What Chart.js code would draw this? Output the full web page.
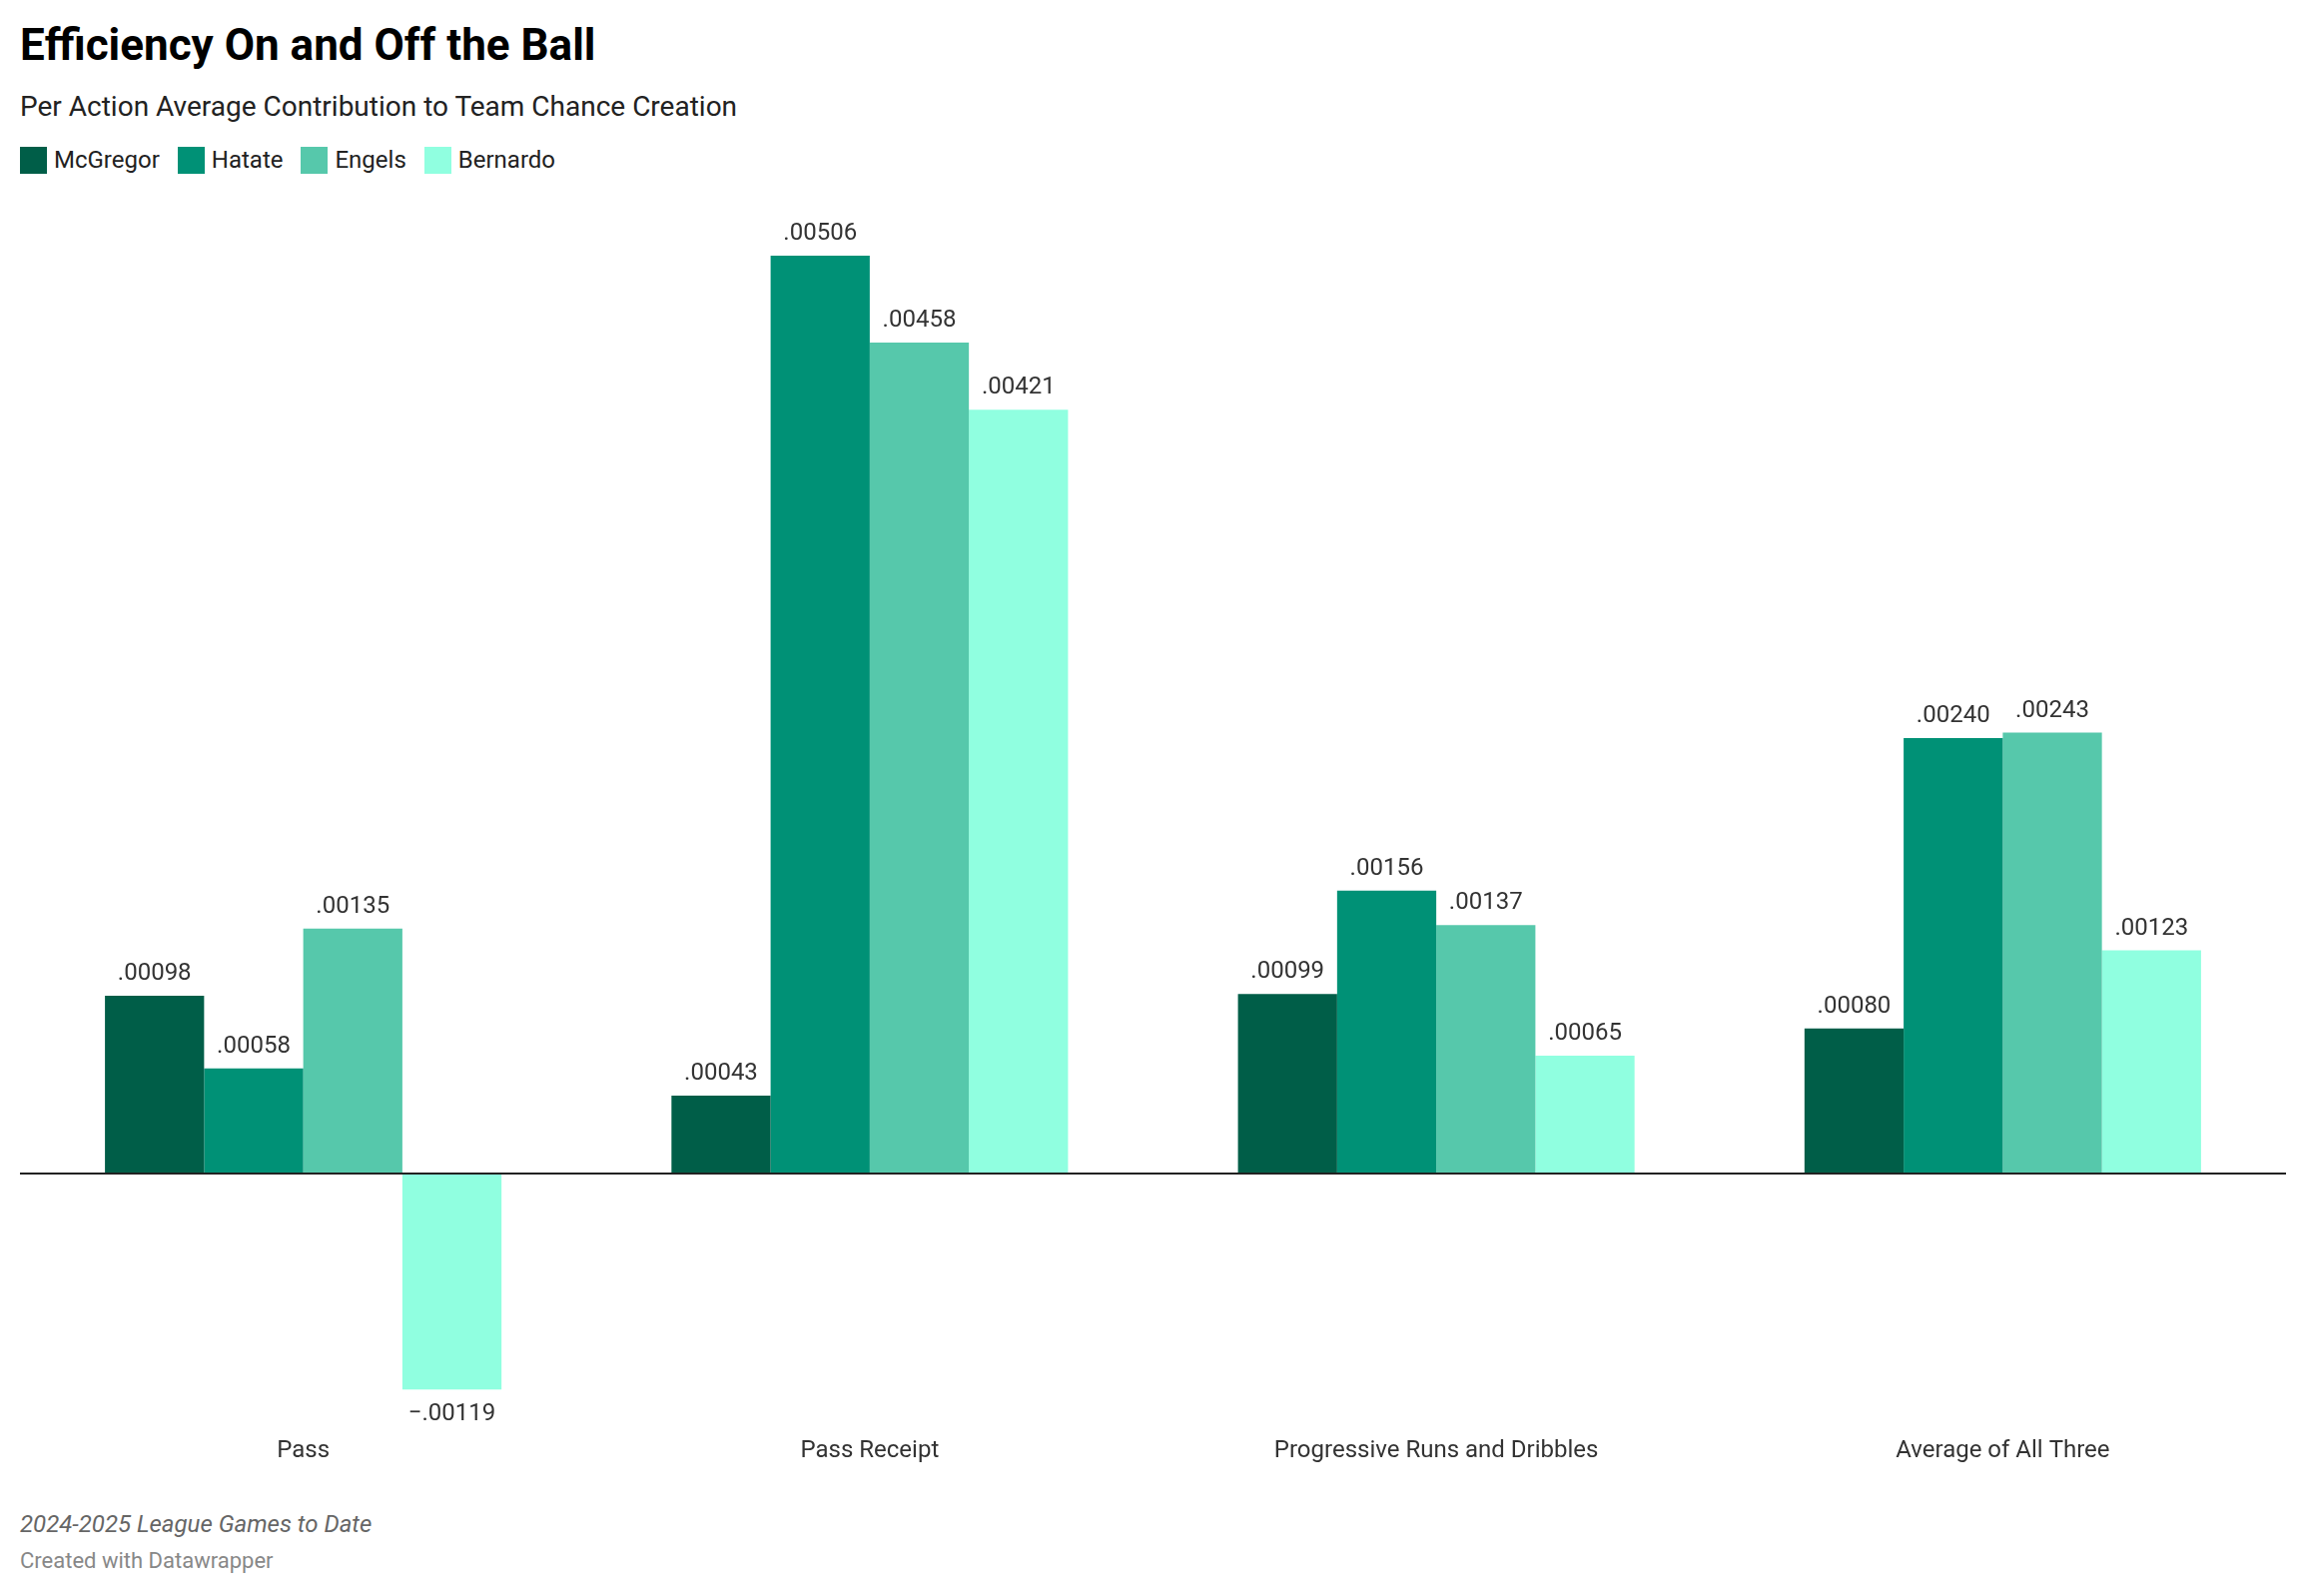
<!doctype html>
<html>
<head>
<meta charset="utf-8" />
<title>Efficiency On and Off the Ball</title>
<script src="https://cdn.jsdelivr.net/npm/chart.js@4.4.0/dist/chart.umd.min.js"></script>
<style>
body { margin:0; background:#fff; font-family:Roboto, sans-serif; }
.txt { position:absolute; left:20px; white-space:nowrap; }
#title { top:21px; font-size:44px; font-weight:700; color:#000; line-height:48px; }
#sub { top:91px; font-size:28px; color:#222; line-height:32px; }
#legend { top:146px; display:flex; font-size:24px; color:#222; line-height:28px; }
#legend .item { display:flex; align-items:center; margin-right:18px; }
#legend .sw { width:27px; height:27px; margin-right:7px; }
#note { top:1512px; font-size:24px; font-style:italic; color:#666; line-height:28px; }
#credit { top:1550px; font-size:22px; color:#888; line-height:26px; }
#wrap { position:absolute; left:0; top:0; width:2308px; height:1598px; }
</style>
</head>

<body>
<div class="txt" id="title">Efficiency On and Off the Ball</div>
<div class="txt" id="sub">Per Action Average Contribution to Team Chance Creation</div>
<div class="txt" id="legend"></div>
<div class="txt" id="note">2024-2025 League Games to Date</div>
<div class="txt" id="credit">Created with Datawrapper</div>
<div id="wrap"><canvas id="chart1"></canvas></div>

<script>
var categories = ["Pass", "Pass Receipt", "Progressive Runs and Dribbles", "Average of All Three"];
var players = ["McGregor", "Hatate", "Engels", "Bernardo"];
var mcgregor = [0.00098, 0.00043, 0.00099, 0.00080];
var hatate = [0.00058, 0.00506, 0.00156, 0.00240];
var engels = [0.00135, 0.00458, 0.00137, 0.00243];
var bernardo = [-0.00119, 0.00421, 0.00065, 0.00123];
var colors = ["#005e48", "#009176", "#56c8ab", "#90ffe0"];

var series = [mcgregor, hatate, engels, bernardo];

// legend in html
var leg = document.getElementById("legend");
players.forEach(function(p, i) {
  var it = document.createElement("div");
  it.className = "item";
  it.innerHTML = '<div class="sw" style="background:' + colors[i] + '"></div>' + p;
  leg.appendChild(it);
});

function fmt(v) {
  var s = Math.abs(v).toFixed(5).replace(/^0/, "");
  return v < 0 ? "\u2212" + s : s;
}

var valueLabels = {
  id: "valueLabels",
  afterDatasetsDraw: function(chart) {
    var ctx = chart.ctx;
    ctx.save();
    ctx.font = "24px Roboto";
    ctx.fillStyle = "#333";
    ctx.textAlign = "center";
    chart.data.datasets.forEach(function(ds, i) {
      chart.getDatasetMeta(i).data.forEach(function(bar, j) {
        var v = ds.data[j];
        if (v >= 0) {
          ctx.textBaseline = "bottom";
          ctx.fillText(fmt(v), bar.x, bar.y - 10);
        } else {
          ctx.textBaseline = "top";
          ctx.fillText(fmt(v), bar.x, bar.y + 13);
        }
      });
    });
    ctx.restore();
  }
};

var chart1 = new Chart("chart1", {
  type: "bar",
  data: {
    labels: categories,
    datasets: series.map(function(d, i) {
      return {
        label: players[i],
        data: d,
        backgroundColor: colors[i],
        categoryPercentage: 0.7,
        barPercentage: 1.0
      };
    })
  },
  options: {
    responsive: true,
    maintainAspectRatio: false,
    animation: false,
    layout: { padding: { left: 20, right: 19, top: 176, bottom: 113 } },
    plugins: { legend: { display: false }, tooltip: { enabled: false } },
    scales: {
      x: {
        grid: { display: false, drawTicks: false },
        border: { display: false },
        ticks: { color: "#333", font: { family: "Roboto", size: 24 }, padding: 18, maxRotation: 0 }
      },
      y: {
        min: -0.00135,
        max: 0.0055,
        border: { display: false },
        grid: {
          drawTicks: false,
          lineWidth: 2,
          color: function(c) { return c.tick && c.tick.value === 0 ? "#222" : "rgba(0,0,0,0)"; }
        },
        ticks: { display: false, stepSize: 0.0005 }
      }
    }
  },
  plugins: [valueLabels]
});
</script>
</body>
</html>
